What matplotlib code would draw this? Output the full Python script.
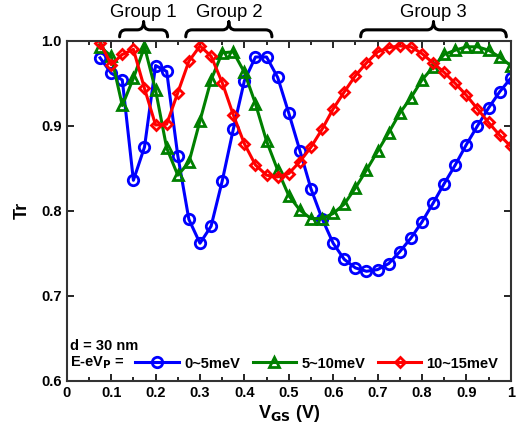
import numpy as np
import matplotlib
matplotlib.use('Agg')
from matplotlib import pyplot as plt
from matplotlib.path import Path
from matplotlib.patches import PathPatch
import matplotlib.transforms as mtransforms

plt.rcParams['font.family'] = 'Liberation Sans'

vgs = [0.075, 0.1, 0.125, 0.15, 0.175, 0.2, 0.225, 0.25, 0.275, 0.3,
       0.325, 0.35, 0.375, 0.4, 0.425, 0.45, 0.475, 0.5, 0.525, 0.55,
       0.575, 0.6, 0.625, 0.65, 0.675, 0.7, 0.725, 0.75, 0.775, 0.8,
       0.825, 0.85, 0.875, 0.9, 0.925, 0.95, 0.975, 1.0]

tr_0_5 = [0.980, 0.962, 0.954, 0.836, 0.875, 0.971, 0.964, 0.865, 0.790, 0.762,
          0.782, 0.835, 0.896, 0.953, 0.981, 0.981, 0.957, 0.915, 0.871, 0.826,
          0.791, 0.762, 0.743, 0.733, 0.729, 0.731, 0.738, 0.752, 0.768, 0.787,
          0.809, 0.832, 0.854, 0.878, 0.900, 0.921, 0.940, 0.956]

tr_5_10 = [0.993, 0.982, 0.924, 0.956, 0.993, 0.942, 0.874, 0.842, 0.857, 0.906,
           0.954, 0.986, 0.987, 0.963, 0.926, 0.882, 0.848, 0.818, 0.801, 0.791,
           0.791, 0.797, 0.808, 0.827, 0.848, 0.870, 0.892, 0.915, 0.933, 0.954,
           0.969, 0.984, 0.989, 0.993, 0.993, 0.989, 0.981, 0.971]

tr_10_15 = [0.998, 0.972, 0.984, 0.990, 0.944, 0.901, 0.902, 0.939, 0.976, 0.994,
            0.982, 0.951, 0.913, 0.879, 0.854, 0.842, 0.840, 0.844, 0.858, 0.875,
            0.896, 0.920, 0.940, 0.959, 0.974, 0.987, 0.992, 0.994, 0.993, 0.985,
            0.974, 0.963, 0.950, 0.936, 0.920, 0.904, 0.889, 0.876]

labels = ['0~5meV', '5~10meV', '10~15meV']
groups = ['Group 1', 'Group 2', 'Group 3']
group_spans = [(0.119, 0.227), (0.268, 0.462), (0.662, 0.990)]

fig = plt.figure(figsize=(5.26, 4.30), dpi=100)
ax = fig.add_axes([0.127, 0.114, 0.844, 0.791])

ax.plot(vgs, tr_0_5, c='#0000ff', lw=2.2, marker='o', ms=7.5, mfc='none', mew=2, label=labels[0])
ax.plot(vgs, tr_5_10, c='#008000', lw=2.2, marker='^', ms=7, mfc='none', mew=2, label=labels[1])
ax.plot(vgs, tr_10_15, c='#ff0000', lw=2.2, marker='D', ms=5.5, mfc='none', mew=2, label=labels[2])

ax.set_xlim(0, 1)
ax.set_ylim(0.6, 1.0)
ax.set_xticks(np.arange(0, 1.01, 0.1))
ax.set_xticklabels(['0', '0.1', '0.2', '0.3', '0.4', '0.5', '0.6', '0.7', '0.8', '0.9', '1'])
ax.set_xticks(np.arange(0.05, 1, 0.1), minor=True)
ax.set_yticks([0.6, 0.7, 0.8, 0.9, 1.0])
ax.set_yticklabels(['0.6', '0.7', '0.8', '0.9', '1.0'])
ax.tick_params(which='both', direction='in', top=True, right=True, width=1.2)
ax.tick_params(which='major', length=5, labelsize=10.5)
ax.tick_params(which='minor', length=3)
for lab in ax.get_xticklabels() + ax.get_yticklabels():
    lab.set_fontweight('bold')
for sp in ax.spines.values():
    sp.set_linewidth(1.5)
    sp.set_color('#333333')

ax.set_xlabel('V$_\\mathbf{GS}$ (V)', fontsize=13, fontweight='bold', labelpad=2)
ax.set_ylabel('Tr', fontsize=13, fontweight='bold', labelpad=8)

ax.text(0.008, 0.103, 'd = 30 nm', transform=ax.transAxes, fontsize=10.5, fontweight='bold', va='center')
ax.text(0.008, 0.053, 'E-eV$_\\mathbf{P}$ =', transform=ax.transAxes, fontsize=10.5, fontweight='bold', va='center')
leg = ax.legend(loc='lower left', bbox_to_anchor=(0.125, -0.008), ncol=3, frameon=False,
                handlelength=3.0, columnspacing=0.85, handletextpad=0.35,
                prop={'weight': 'bold', 'size': 10.5})

# curly braces above the plot
trans = mtransforms.blended_transform_factory(ax.transData, ax.transAxes)
yb, ybar, ytip = 1 + 4 / 340, 1 + 11 / 340, 1 + 19 / 340
r = 0.014
for (x0, x1), name in zip(group_spans, groups):
    xm = (x0 + x1) / 2
    verts, codes = [], []
    for xe, s in ((x0, 1), (x1, -1)):
        verts += [(xe, yb), (xe, ybar), (xe + s * r, ybar), (xm - s * r, ybar), (xm, ybar), (xm, ytip)]
        codes += [Path.MOVETO, Path.CURVE3, Path.CURVE3, Path.LINETO, Path.CURVE3, Path.CURVE3]
    ax.add_patch(PathPatch(Path(verts, codes), transform=trans, fill=False, lw=2.2,
                           color='black', clip_on=False, capstyle='round'))
    ax.text(xm, ytip + 0.002, name, transform=trans, ha='center', va='bottom', fontsize=13.3)

fig.savefig('out.png', dpi=100)
